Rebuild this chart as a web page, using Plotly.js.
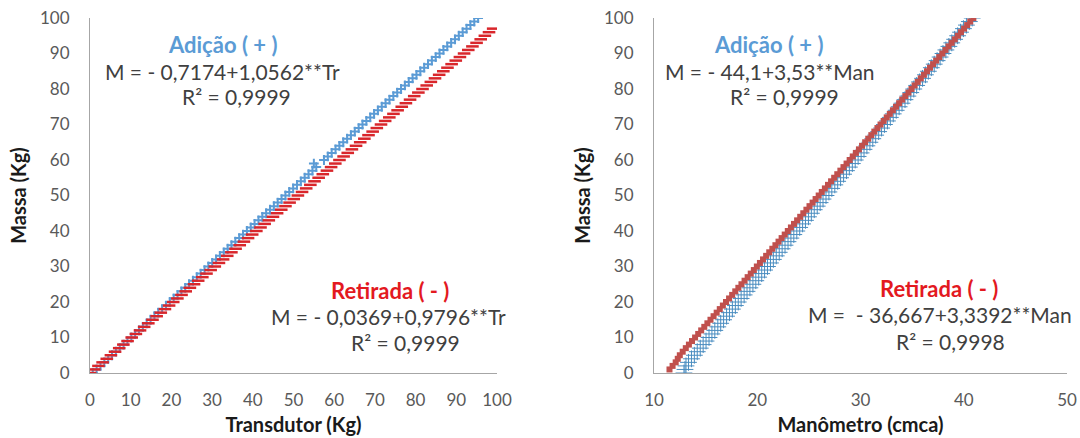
<!DOCTYPE html>
<html>
<head>
<meta charset="utf-8">
<script src="https://cdn.plot.ly/plotly-3.0.1.min.js"></script>
<style>html,body{margin:0;padding:0;background:#fff;}#chart{width:1080px;height:438px;}</style>
</head>
<body>
<div id="chart"></div>
<script>
// ---- Data ----
// Left panel: Massa (Kg) vs Transdutor (Kg)
const massAdicaoTr = [0,1,2,3,4,5,6,7,8,9,10,11,12,13,14,15,16,17,18,19,20,21,22,23,24,25,26,27,28,29,30,31,32,33,34,35,36,37,38,39,40,41,42,43,44,45,46,47,48,49,50,51,52,53,54,55,56,57,58,59,60,61,62,63,64,65,66,67,68,69,70,71,72,73,74,75,76,77,78,79,80,81,82,83,84,85,86,87,88,89,90,91,92,93,94,95,96,97,98,99,100];
const trAdicao = [0.68,1.63,2.57,3.52,4.47,5.41,6.36,7.31,8.25,9.20,10.15,11.09,12.04,12.99,13.93,14.88,15.83,16.77,17.72,18.67,19.61,20.56,21.51,22.46,23.40,24.35,25.30,26.24,27.19,28.14,29.08,30.03,30.98,31.92,32.87,33.82,34.76,35.71,36.66,37.60,38.55,39.50,40.44,41.39,42.34,43.28,44.23,45.18,46.12,47.07,48.02,48.96,49.91,50.86,51.81,52.75,53.70,54.65,55.59,55.00,57.49,58.43,59.38,60.33,61.27,62.22,63.17,64.11,65.06,66.01,66.95,67.90,68.85,69.79,70.74,71.69,72.63,73.58,74.53,75.48,76.42,77.37,78.32,79.26,80.21,81.16,82.10,83.05,84.00,84.94,85.89,86.84,87.78,88.73,89.68,90.62,91.57,92.52,93.46,94.41,95.36];
const massRetiradaTr = [0,1,2,3,4,5,6,7,8,9,10,11,12,13,14,15,16,17,18,19,20,21,22,23,24,25,26,27,28,29,30,31,32,33,34,35,36,37,38,39,40,41,42,43,44,45,46,47,48,49,50,51,52,53,54,55,56,57,58,59,60,61,62,63,64,65,66,67,68,69,70,71,72,73,74,75,76,77,78,79,80,81,82,83,84,85,86,87,88,89,90,91,92,93,94,95,96,97];
const trRetirada = [0.04,1.06,2.08,3.10,4.12,5.14,6.16,7.18,8.20,9.23,10.25,11.27,12.29,13.31,14.33,15.35,16.37,17.39,18.41,19.43,20.45,21.47,22.49,23.52,24.54,25.56,26.58,27.60,28.62,29.64,30.66,31.68,32.70,33.72,34.74,35.77,36.79,37.81,38.83,39.85,40.87,41.89,42.91,43.93,44.95,45.97,46.99,48.02,49.04,50.06,51.08,52.10,53.12,54.14,55.16,56.18,57.20,58.22,59.24,60.27,61.29,62.31,63.33,64.35,65.37,66.39,67.41,68.43,69.45,70.47,71.50,72.52,73.54,74.56,75.58,76.60,77.62,78.64,79.66,80.68,81.70,82.73,83.75,84.77,85.79,86.81,87.83,88.85,89.87,90.89,91.91,92.94,93.96,94.98,96.00,97.02,98.04,99.06];

// Right panel: Massa (Kg) vs Manômetro (cmca)
const massAdicaoMan = [0,1,2,3,4,5,6,7,8,9,10,11,12,13,14,15,16,17,18,19,20,21,22,23,24,25,26,27,28,29,30,31,32,33,34,35,36,37,38,39,40,41,42,43,44,45,46,47,48,49,50,51,52,53,54,55,56,57,58,59,60,61,62,63,64,65,66,67,68,69,70,71,72,73,74,75,76,77,78,79,80,81,82,83,84,85,86,87,88,89,90,91,92,93,94,95,96,97,98,99,100];
const manAdicao = [12.9,13.0,13.1,13.34,13.63,13.91,14.19,14.48,14.76,15.04,15.33,15.61,15.89,16.18,16.46,16.74,17.03,17.31,17.59,17.88,18.16,18.44,18.73,19.01,19.29,19.58,19.86,20.14,20.43,20.71,20.99,21.28,21.56,21.84,22.13,22.41,22.69,22.98,23.26,23.54,23.83,24.11,24.39,24.67,24.96,25.24,25.52,25.81,26.09,26.37,26.66,26.94,27.22,27.51,27.79,28.07,28.36,28.64,28.92,29.21,29.49,29.77,30.06,30.34,30.62,30.91,31.19,31.47,31.76,32.04,32.32,32.61,32.89,33.17,33.46,33.74,34.02,34.31,34.59,34.87,35.16,35.44,35.72,36.01,36.29,36.57,36.86,37.14,37.42,37.71,37.99,38.27,38.56,38.84,39.12,39.41,39.69,39.97,40.26,40.54,40.82];
const massRetiradaMan = [1,2,3,4,5,6,7,8,9,10,11,12,13,14,15,16,17,18,19,20,21,22,23,24,25,26,27,28,29,30,31,32,33,34,35,36,37,38,39,40,41,42,43,44,45,46,47,48,49,50,51,52,53,54,55,56,57,58,59,60,61,62,63,64,65,66,67,68,69,70,71,72,73,74,75,76,77,78,79,80,81,82,83,84,85,86,87,88,89,90,91,92,93,94,95,96,97,98,99,100];
const manRetirada = [11.5,11.8,12.1,12.3,12.5,12.78,13.08,13.38,13.68,13.98,14.28,14.57,14.87,15.17,15.47,15.77,16.07,16.37,16.67,16.97,17.27,17.57,17.87,18.17,18.47,18.77,19.07,19.37,19.67,19.96,20.26,20.56,20.86,21.16,21.46,21.76,22.06,22.36,22.66,22.96,23.26,23.56,23.86,24.16,24.46,24.76,25.06,25.36,25.65,25.95,26.25,26.55,26.85,27.15,27.45,27.75,28.05,28.35,28.65,28.95,29.25,29.55,29.85,30.15,30.45,30.75,31.05,31.34,31.64,31.94,32.24,32.54,32.84,33.14,33.44,33.74,34.04,34.34,34.64,34.94,35.24,35.54,35.84,36.14,36.44,36.73,37.03,37.33,37.63,37.93,38.23,38.53,38.83,39.13,39.43,39.73,40.03,40.33,40.63,40.93];

const yTicks = [0,10,20,30,40,50,60,70,80,90,100];
const xTicksTr = [0,10,20,30,40,50,60,70,80,90,100];
const xTicksMan = [10,20,30,40,50];

const labels = {
  adicao: "Adição ( + )",
  retirada: "Retirada ( - )",
  eqAdTr: "M = - 0,7174+1,0562**Tr",
  r2AdTr: "R² = 0,9999",
  eqRetTr: "M = - 0,0369+0,9796**Tr",
  r2RetTr: "R² = 0,9999",
  eqAdMan: "M = - 44,1+3,53**Man",
  r2AdMan: "R² = 0,9999",
  eqRetMan: "M =  - 36,667+3,3392**Man",
  r2RetMan: "R² = 0,9998",
  yTitle: "Massa (Kg)",
  xTitleTr: "Transdutor (Kg)",
  xTitleMan: "Manômetro (cmca)"
};

// ---- Styling ----
const FONT = "Lato, 'Open Sans', sans-serif";
const BLUE_TXT = "#5B9BD5";
const RED_TXT = "#E3191F";
const EQ_COL = "#404040";
const W = 1080, H = 438;
const px = v => v / W;
const py = v => 1 - v / H;

const traces = [
  {x: trAdicao, y: massAdicaoTr, type: 'scatter', mode: 'markers', name: 'Adição',
   xaxis: 'x', yaxis: 'y',
   marker: {symbol: 'cross-thin', size: 7, line: {color: '#5B9BD5', width: 2}, color: '#5B9BD5'}},
  {x: trRetirada, y: massRetiradaTr, type: 'scatter', mode: 'markers', name: 'Retirada',
   xaxis: 'x', yaxis: 'y',
   marker: {symbol: 'line-ew', size: 9, line: {color: '#D9262B', width: 2.5}, color: '#D9262B'}},
  {x: manAdicao, y: massAdicaoMan, type: 'scatter', mode: 'markers', name: 'Adição',
   xaxis: 'x2', yaxis: 'y2',
   marker: {symbol: 'cross-thin', size: 12, line: {color: '#4A8DC0', width: 1}, color: '#4A8DC0'}},
  {x: manRetirada, y: massRetiradaMan, type: 'scatter', mode: 'markers', name: 'Retirada',
   xaxis: 'x2', yaxis: 'y2',
   marker: {symbol: 'square', size: 6, color: '#C0504D', line: {width: 0}}}
];

const axisCommon = {
  showgrid: false, zeroline: false, showline: true, linecolor: '#A6A6A6', linewidth: 1,
  ticks: '', tickfont: {family: FONT, size: 17, color: '#595959'}, fixedrange: true
};
const titleFont = {family: FONT, size: 20, color: '#1a1a1a', weight: 'bold'};

function ann(text, x, y, color, bold) {
  return {text: text, x: px(x), y: py(y), xref: 'paper', yref: 'paper', showarrow: false,
          xanchor: 'center', yanchor: 'middle',
          font: {family: FONT, size: bold ? 22 : 21, color: color, weight: bold ? 'bold' : 'normal'}};
}

const layout = {
  width: W, height: H, margin: {l: 0, r: 0, t: 0, b: 0},
  paper_bgcolor: '#ffffff', plot_bgcolor: '#ffffff', showlegend: false,
  xaxis: Object.assign({}, axisCommon, {domain: [px(90), px(497)], range: [0, 100], tickvals: xTicksTr,
     ticklabelstandoff: 12, anchor: 'y',
     title: {text: labels.xTitleTr, font: titleFont, standoff: 8}}),
  yaxis: Object.assign({}, axisCommon, {domain: [1 - 373 / H, 1 - 18 / H], range: [0, 100], tickvals: yTicks,
     ticklabelstandoff: 16, anchor: 'x',
     title: {text: labels.yTitle, font: titleFont, standoff: 8}}),
  xaxis2: Object.assign({}, axisCommon, {domain: [px(654), px(1067)], range: [10, 50], tickvals: xTicksMan,
     ticklabelstandoff: 12, anchor: 'y2',
     title: {text: labels.xTitleMan, font: titleFont, standoff: 8}}),
  yaxis2: Object.assign({}, axisCommon, {domain: [1 - 373 / H, 1 - 18 / H], range: [0, 100], tickvals: yTicks,
     ticklabelstandoff: 16, anchor: 'x2',
     title: {text: labels.yTitle, font: titleFont, standoff: 8}}),
  annotations: [
    ann(labels.adicao, 222, 45, BLUE_TXT, true),
    ann(labels.eqAdTr, 222, 71, EQ_COL, false),
    ann(labels.r2AdTr, 236, 97, EQ_COL, false),
    ann(labels.retirada, 390, 290, RED_TXT, true),
    ann(labels.eqRetTr, 388, 316, EQ_COL, false),
    ann(labels.r2RetTr, 405, 342, EQ_COL, false),
    ann(labels.adicao, 768, 45, BLUE_TXT, true),
    ann(labels.eqAdMan, 770, 71, EQ_COL, false),
    ann(labels.r2AdMan, 784, 97, EQ_COL, false),
    ann(labels.retirada, 939, 288, RED_TXT, true),
    ann(labels.eqRetMan, 940, 314, EQ_COL, false),
    ann(labels.r2RetMan, 950, 341, EQ_COL, false)
  ]
};

Plotly.newPlot('chart', traces, layout, {staticPlot: true, displayModeBar: false});
</script>
</body>
</html>
